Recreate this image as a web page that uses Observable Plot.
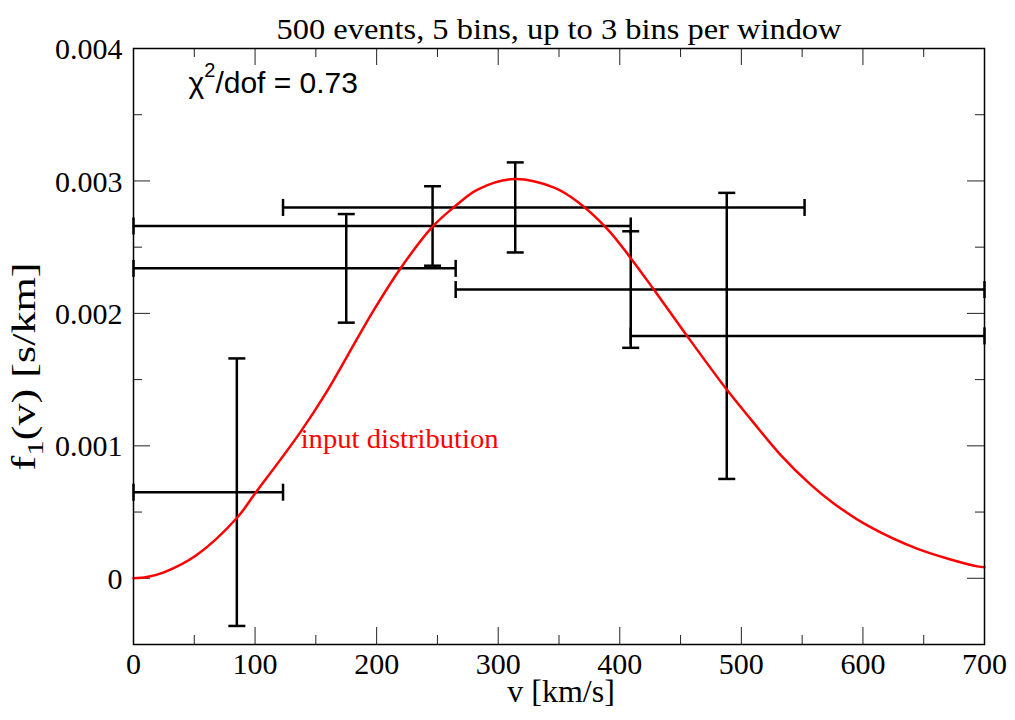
<!DOCTYPE html>
<html>
<head>
<meta charset="utf-8">
<script src="https://cdn.jsdelivr.net/npm/d3@7"></script>
<script src="https://cdn.jsdelivr.net/npm/@observablehq/plot@0.6"></script>
<style>
  html, body { margin: 0; padding: 0; background: #fff; }
  #chart svg { display: block; }
</style>
</head>
<body>
<div id="chart"></div>
<script>
// ---- texts ----
const titleText = "500 events, 5 bins, up to 3 bins per window";
const xLabel = "v [km/s]";
const yLabel = "f1(v) [s/km]";
const chiText = "χ2/dof = 0.73";
const curveLabel = "input distribution";

// ---- axes ----
const xTicks = [0, 100, 200, 300, 400, 500, 600, 700];
const xTickLabels = ["0", "100", "200", "300", "400", "500", "600", "700"];
const xMinorTicks = [50, 150, 250, 350, 450, 550, 650];
const yTicks = [0, 0.001, 0.002, 0.003, 0.004];
const yTickLabels = ["0", "0.001", "0.002", "0.003", "0.004"];
const yMinorTicks = [0.0005, 0.0015, 0.0025, 0.0035];

// ---- input distribution (velocity in km/s, f in units of 1e-3 s/km) ----
const curveV = [0, 11, 25, 52, 85, 100, 137, 159, 176, 198, 220, 246, 264, 283, 313,
                346, 365, 390, 409, 428, 453, 487, 508, 532, 557, 576, 604, 645, 694, 700];
const curveF = [0, 0.01, 0.045, 0.176, 0.455, 0.640, 1.10, 1.41, 1.68, 2.03, 2.345, 2.655, 2.805, 2.935, 3.015,
                2.95, 2.845, 2.635, 2.417, 2.18, 1.86, 1.436, 1.198, 0.934, 0.707, 0.565, 0.397, 0.222, 0.09, 0.083];

// ---- reconstructed points: window centre, value, error, window range ----
const pointV = [85, 175, 246, 314, 409, 488];
const pointF = [0.00065, 0.00234, 0.00266, 0.00280, 0.00218, 0.00183];
const pointErr = [0.00101, 0.00041, 0.00030, 0.00034, 0.00044, 0.00108];
const windowLow = [0, 0, 0, 123, 265, 409];
const windowHigh = [123, 265, 409, 552, 700, 700];

// annotation anchor (data space)
const curveLabelAt = {v: 137.5, f: 0.00105};

// ---- layout ----
const W = 1015, H = 720;
const M = {top: 48, right: 31, bottom: 76, left: 133};
const frameW = W - M.left - M.right;
const frameH = H - M.top - M.bottom;
const majorLen = 17, minorLen = 9;
const tickColor = "#222";

const curve = curveV.map((v, i) => ({v, f: curveF[i] * 1e-3}));
const points = pointV.map((v, i) => ({v, f: pointF[i], err: pointErr[i], lo: windowLow[i], hi: windowHigh[i]}));

// cap symbols for the error bars
const hCap = {draw(ctx, size) { const r = Math.sqrt(size / Math.PI); ctx.moveTo(-r, 0); ctx.lineTo(r, 0); }};
const vCap = {draw(ctx, size) { const r = Math.sqrt(size / Math.PI); ctx.moveTo(0, -r); ctx.lineTo(0, r); }};

const serif = "'Liberation Serif', 'Times New Roman', serif";
const sans = "'Liberation Sans', Arial, sans-serif";
const barW = 2.5;

const chart = Plot.plot({
  width: W,
  height: H,
  marginTop: M.top,
  marginRight: M.right,
  marginBottom: M.bottom,
  marginLeft: M.left,
  style: {background: "#fff", fontFamily: serif, fontSize: "30px", color: "#000"},
  x: {domain: [0, 700], label: null},
  y: {domain: [-0.0005, 0.004], label: null},
  marks: [
    // inward ticks on all four sides
    Plot.ruleX(xMinorTicks, {x: d => d, insetTop: frameH - minorLen, stroke: tickColor}),
    Plot.ruleX(xMinorTicks, {x: d => d, insetBottom: frameH - minorLen, stroke: tickColor}),
    Plot.ruleX(xTicks, {x: d => d, insetTop: frameH - majorLen, stroke: tickColor}),
    Plot.ruleX(xTicks, {x: d => d, insetBottom: frameH - majorLen, stroke: tickColor}),
    Plot.ruleY(yMinorTicks, {y: d => d, insetRight: frameW - minorLen, stroke: tickColor}),
    Plot.ruleY(yMinorTicks, {y: d => d, insetLeft: frameW - minorLen, stroke: tickColor}),
    Plot.ruleY(yTicks, {y: d => d, insetRight: frameW - majorLen, stroke: tickColor}),
    Plot.ruleY(yTicks, {y: d => d, insetLeft: frameW - majorLen, stroke: tickColor}),
    Plot.axisX(xTicks, {tickSize: 0, tickPadding: 8, fontSize: 30, fontFamily: serif, label: null,
      tickFormat: d => xTickLabels[xTicks.indexOf(d)]}),
    Plot.axisY(yTicks, {tickSize: 0, tickPadding: 11, fontSize: 30, fontFamily: serif, label: null, dy: 1,
      tickFormat: d => yTickLabels[yTicks.indexOf(d)]}),

    // error bars: vertical (value) and horizontal (velocity window)
    Plot.ruleX(points, {x: "v", y1: d => d.f - d.err, y2: d => d.f + d.err, stroke: "#000", strokeWidth: barW}),
    Plot.ruleY(points, {y: "f", x1: "lo", x2: "hi", stroke: "#000", strokeWidth: barW}),
    Plot.dot(points, {x: "v", y: d => d.f + d.err, symbol: hCap, r: 8.5, stroke: "#000", strokeWidth: barW, fill: "none"}),
    Plot.dot(points, {x: "v", y: d => d.f - d.err, symbol: hCap, r: 8.5, stroke: "#000", strokeWidth: barW, fill: "none"}),
    Plot.dot(points, {x: "lo", y: "f", symbol: vCap, r: 8.5, stroke: "#000", strokeWidth: barW, fill: "none"}),
    Plot.dot(points, {x: "hi", y: "f", symbol: vCap, r: 8.5, stroke: "#000", strokeWidth: barW, fill: "none"}),

    // input distribution
    Plot.line(curve, {x: "v", y: "f", stroke: "#ff0000", strokeWidth: 2.5, curve: "catmull-rom"}),

    Plot.frame({stroke: "#000", strokeWidth: 1.5}),

    // texts
    Plot.text([titleText], {frameAnchor: "top", dy: -31, fontSize: 30, fontFamily: serif, fill: "#000"}),
    Plot.text([xLabel], {frameAnchor: "bottom", dx: 2, dy: 57, fontSize: 32, fontFamily: serif, fill: "#000"}),
    Plot.text([yLabel], {frameAnchor: "left", textAnchor: "middle", rotate: -90, dx: -109, dy: 20, fontSize: 34, fontFamily: serif, fill: "#000"}),
    Plot.text([chiText], {frameAnchor: "top-left", dx: 55, dy: 23, textAnchor: "start", fontSize: 30, fontFamily: sans, fill: "#000"}),
    Plot.text([curveLabel], {x: curveLabelAt.v, y: curveLabelAt.f, textAnchor: "start", fontSize: 27, fontFamily: serif, fill: "#ff0000"})
  ]
});

// rich text: superscript / subscript pieces
function richText(svg, plain, parts) {
  d3.select(svg).selectAll("text").filter(function () { return this.textContent === plain; })
    .each(function () {
      const t = d3.select(this);
      t.text(null);
      parts.forEach(p => {
        const s = t.append("tspan").text(p.text);
        if (p.dy) s.attr("dy", p.dy);
        if (p.size) s.attr("font-size", p.size);
      });
    });
}
function fitText(svg, plain, length) {
  d3.select(svg).selectAll("text").filter(function () { return this.textContent === plain; })
    .attr("textLength", length).attr("lengthAdjust", "spacingAndGlyphs");
}
fitText(chart, titleText, 565);
fitText(chart, curveLabel, 198);
richText(chart, chiText, [
  {text: "χ"}, {text: "2", dy: "-16px", size: 20}, {text: "/dof = 0.73", dy: "16px"}
]);
richText(chart, yLabel, [
  {text: "f"}, {text: "1", dy: "8px", size: 24}, {text: "(v) [s/km]", dy: "-8px"}
]);
fitText(chart, "f1(v) [s/km]", 208);

document.getElementById("chart").appendChild(chart);
</script>
</body>
</html>
